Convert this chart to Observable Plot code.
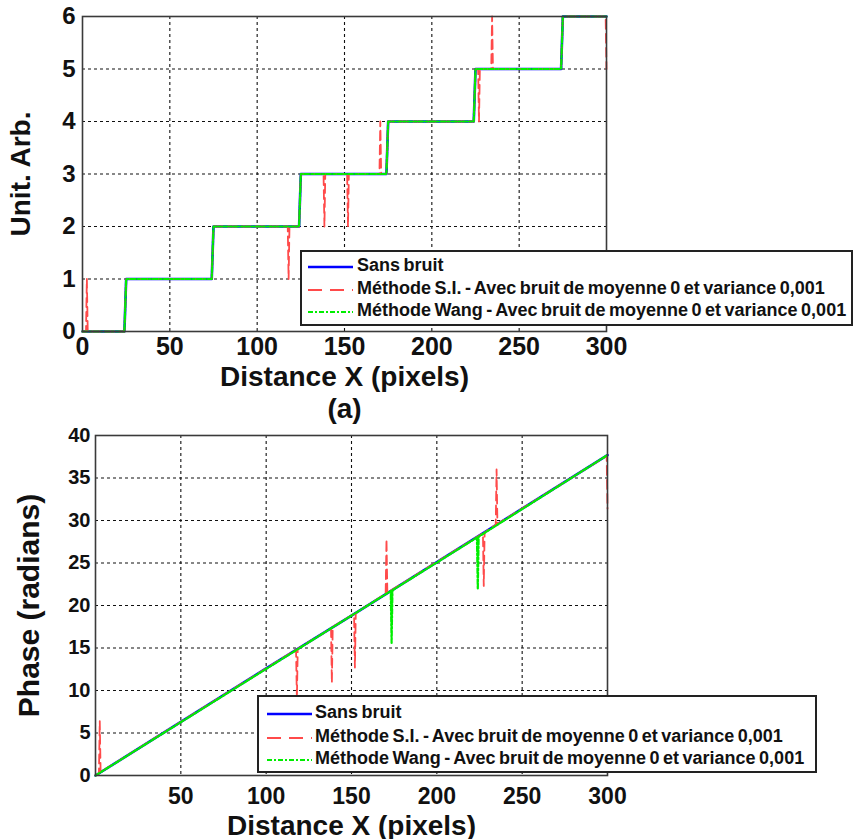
<!DOCTYPE html>
<html>
<head>
<meta charset="utf-8">
<script src="https://cdn.jsdelivr.net/npm/d3@7"></script>
<script src="https://cdn.jsdelivr.net/npm/@observablehq/plot@0.6"></script>
<style>
  html, body { margin: 0; padding: 0; background: #fff; }
  #wrap { position: relative; width: 854px; height: 839px; overflow: hidden; font-family: "Liberation Sans", Arial, sans-serif; }
  .panel { position: absolute; left: 0; }
  .legend { position: absolute; background: #fff; border: 2px solid #222; box-sizing: border-box; font-weight: bold; font-size: 18px; color: #111; }
  .legend .row { position: absolute; left: 0; height: 22px; white-space: nowrap; word-spacing: -1.5px; }
  .legend .row svg { position: absolute; top: 0; }
  .legend .row span { position: absolute; top: -1px; }
</style>
</head>
<body>
<div id="wrap"></div>
<script>
// ---------- Data ----------
const seriesNames = ["Sans bruit", "Méthode S.I. - Avec bruit de moyenne 0 et variance 0,001", "Méthode Wang - Avec bruit de moyenne 0 et variance 0,001"];
const xTicks = [0, 50, 100, 150, 200, 250, 300];

// Panel (a): unwrapped integer order (Unit. Arb.)
const aSansX = [0, 24, 25, 74, 75, 124, 125, 174, 175, 224, 225, 274, 275, 300];
const aSansY = [0, 0, 1, 1, 2, 2, 3, 3, 4, 4, 5, 5, 6, 6];
const aWangX = [0, 24, 25, 74, 75, 124, 125, 174, 175, 224, 225, 274, 275, 300];
const aWangY = [0, 0, 1, 1, 2, 2, 3, 3, 4, 4, 5, 5, 6, 6];
const aSIX = [0, 2, 2.5, 3, 24, 25, 74, 75, 117.5, 118, 118.5, 124, 125, 138, 138.5, 139, 151.5, 152, 152.5, 170, 170.5, 171, 174, 175, 224, 225, 226.5, 227, 227.5, 234, 234.5, 235, 274, 275, 299.5, 300];
const aSIY = [0, 0, 1, 0, 0, 1, 1, 2, 2, 1, 2, 2, 3, 3, 2, 3, 3, 2, 3, 3, 4, 3, 3, 4, 4, 5, 5, 4, 5, 5, 6, 5, 5, 6, 6, 5];
const aYTicks = [0, 1, 2, 3, 4, 5, 6];

// Panel (b): phase (radians)
const bSansX = [0, 50, 100, 150, 200, 250, 300];
const bSansY = [0, 6.3, 12.6, 18.8, 25.1, 31.4, 37.7];
const bSIX = [0, 2, 2.5, 3, 117.5, 118, 118.5, 138, 138.5, 139, 151.5, 152, 152.5, 170, 170.5, 171, 227, 227.5, 228, 234.5, 235, 235.5, 299.5, 300];
const bSIY = [0, 0.25, 6.4, 0.4, 14.8, 9.0, 14.9, 17.3, 10.9, 17.5, 19.0, 12.7, 19.1, 21.4, 27.8, 21.5, 28.5, 22.3, 28.6, 29.5, 36.0, 29.6, 37.6, 31.4];
const bWangX = [0, 173, 173.5, 174, 223.5, 224, 224.5, 300];
const bWangY = [0, 21.7, 15.6, 21.8, 28.0, 21.9, 28.1, 37.7];
const bYTicks = [0, 5, 10, 15, 20, 25, 30, 35, 40];

// ---------- Helpers ----------
const zip = (xs, ys) => xs.map((x, i) => ({x, y: ys[i]}));
const colors = ["#0000ff", "#ff4a4a", "#00ee00"];
const styles = [
  {stroke: colors[0], strokeWidth: 2.6},
  {stroke: colors[1], strokeWidth: 1.8, strokeDasharray: "9,5"},
  {stroke: colors[2], strokeWidth: 2.2, strokeDasharray: "5,2,2,2"}
];
const FONT = "Liberation Sans, Arial, sans-serif";

function panel({top, height, mL, mR, mT, mB, yDomain, yTicks, series, xFont, yFont, xPad, yPad, yLabel, yLabelDx, yLabelSize, xTitleDy, extra, xTickList}) {
  const marks = [
    Plot.gridX([50, 100, 150, 200, 250], {stroke: "#111", strokeOpacity: 1, strokeWidth: 1.1, strokeDasharray: "3,3"}),
    Plot.gridY(yTicks.slice(1, -1), {stroke: "#111", strokeOpacity: 1, strokeWidth: 1.1, strokeDasharray: "3,3"}),
    ...series.map((s, i) => Plot.line(s, {x: "x", y: "y", ...styles[i]})),
    Plot.frame({stroke: "#3a3a3a", strokeWidth: 1.6}),
    Plot.axisX(xTickList, {tickSize: 0, tickPadding: xPad, tickFormat: "d", fontSize: xFont, fontWeight: "bold", fontFamily: FONT, fill: "#111", label: null}),
    Plot.axisY(yTicks, {tickSize: 0, tickPadding: yPad, tickFormat: "d", fontSize: yFont, fontWeight: "bold", fontFamily: FONT, fill: "#111", label: null}),
    Plot.text(["Distance X (pixels)"], {frameAnchor: "bottom", dy: xTitleDy, fontSize: 28, fontWeight: "bold", fontFamily: FONT, fill: "#111", lineAnchor: "bottom"}),
    Plot.text([yLabel], {frameAnchor: "left", dx: yLabelDx, rotate: -90, textAnchor: "middle", fontSize: yLabelSize, fontWeight: "bold", fontFamily: FONT, fill: "#111", lineAnchor: "bottom"}),
    ...(extra || [])
  ];
  const svg = Plot.plot({
    width: 854, height,
    marginLeft: mL, marginRight: mR, marginTop: mT, marginBottom: mB,
    x: {domain: [0, 300]},
    y: {domain: yDomain},
    style: {background: "transparent", overflow: "visible", fontFamily: FONT},
    marks
  });
  svg.classList.add("panel");
  svg.style.top = top + "px";
  return svg;
}

function legend(left, top, width, height, sampleLeft, sampleWidth, textLeft, rowTops) {
  const box = document.createElement("div");
  box.className = "legend";
  Object.assign(box.style, {left: left + "px", top: top + "px", width: width + "px", height: height + "px"});
  seriesNames.forEach((name, i) => {
    const row = document.createElement("div");
    row.className = "row";
    row.style.top = rowTops[i] + "px";
    row.style.width = (width - 4) + "px";
    const ns = "http://www.w3.org/2000/svg";
    const s = document.createElementNS(ns, "svg");
    s.setAttribute("width", sampleWidth + 4);
    s.setAttribute("height", 20);
    s.style.left = sampleLeft + "px";
    const l = document.createElementNS(ns, "line");
    l.setAttribute("x1", 2); l.setAttribute("x2", sampleWidth + 2);
    l.setAttribute("y1", 11); l.setAttribute("y2", 11);
    l.setAttribute("stroke", styles[i].stroke);
    l.setAttribute("stroke-width", styles[i].strokeWidth);
    if (styles[i].strokeDasharray) l.setAttribute("stroke-dasharray", i === 1 ? "14,8" : styles[i].strokeDasharray);
    s.appendChild(l);
    const t = document.createElement("span");
    t.textContent = name;
    t.style.left = textLeft + "px";
    row.appendChild(s);
    row.appendChild(t);
    box.appendChild(row);
  });
  return box;
}

const wrap = document.getElementById("wrap");

// Panel (a)
const topPanel = panel({
  top: 0, height: 420, mL: 82, mR: 248, mT: 16, mB: 89,
  yDomain: [0, 6], yTicks: aYTicks, xTickList: xTicks,
  series: [zip(aSansX, aSansY), zip(aSIX, aSIY), zip(aWangX, aWangY)],
  xFont: 25, yFont: 24, xPad: 6, yPad: 7,
  yLabel: "Unit. Arb.", yLabelDx: -53, yLabelSize: 28, xTitleDy: 54,
  extra: [Plot.text(["(a)"], {frameAnchor: "bottom", dy: 86, fontSize: 28, fontWeight: "bold", fontFamily: FONT, fill: "#111", lineAnchor: "bottom"})]
});
wrap.appendChild(topPanel);

// Panel (b)
const botPanel = panel({
  top: 420, height: 419, mL: 95, mR: 247, mT: 15, mB: 64,
  yDomain: [0, 40], yTicks: bYTicks, xTickList: xTicks.slice(1),
  series: [zip(bSansX, bSansY), zip(bSIX, bSIY), zip(bWangX, bWangY)],
  xFont: 23, yFont: 20, xPad: 12, yPad: 5,
  yLabel: "Phase (radians)", yLabelDx: -57, yLabelSize: 30, xTitleDy: 59
});
wrap.appendChild(botPanel);

wrap.appendChild(legend(300, 250, 553, 76, 4, 45, 55, [4, 27, 49]));
wrap.appendChild(legend(257, 695, 560, 78, 6, 45, 56, [6, 30, 52]));
</script>
</body>
</html>
